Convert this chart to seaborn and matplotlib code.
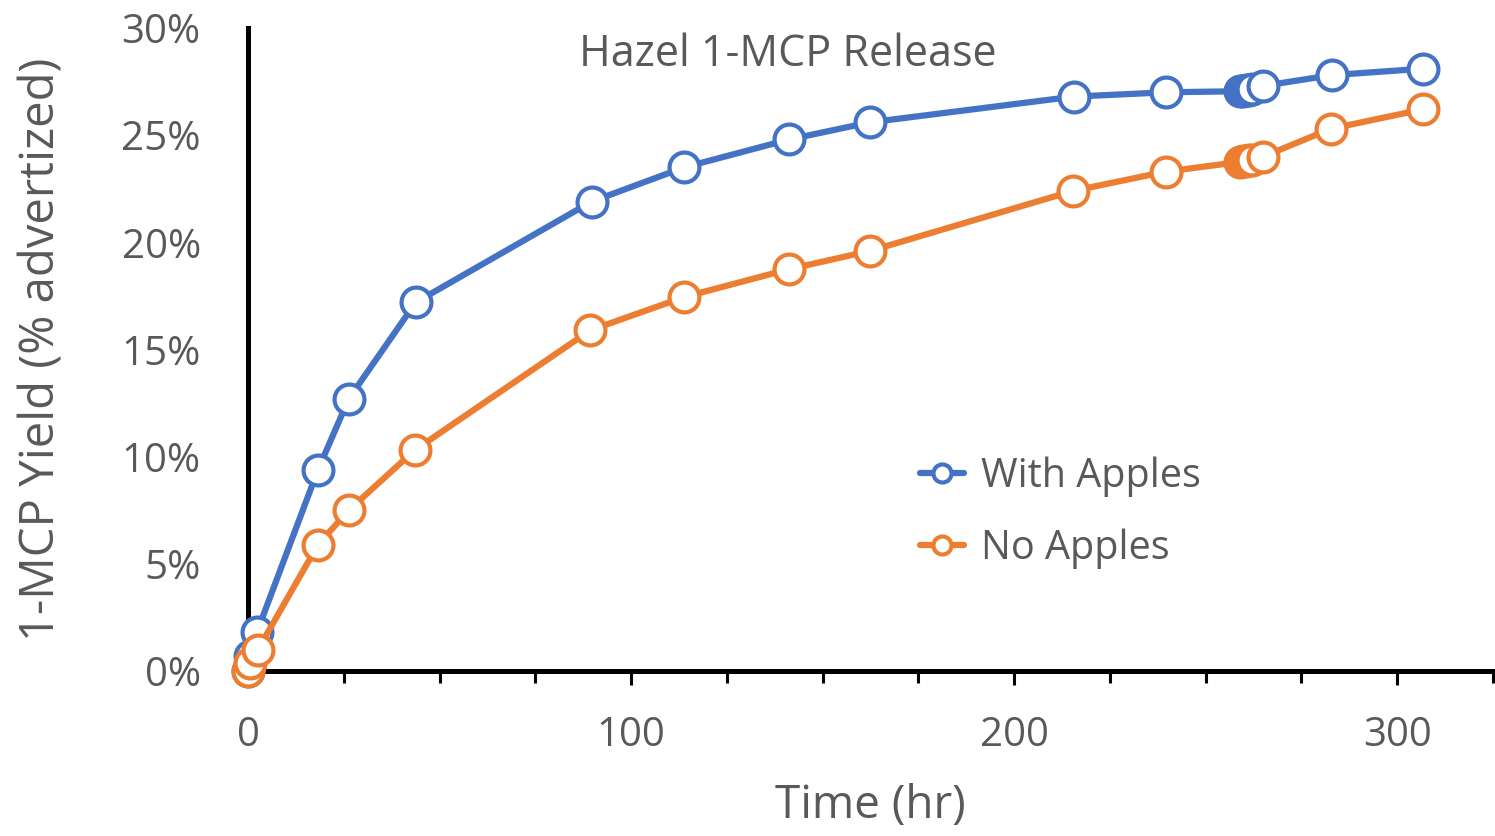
import matplotlib
matplotlib.use("Agg")
import matplotlib.pyplot as plt
from matplotlib.ticker import MultipleLocator, FuncFormatter
from matplotlib.lines import Line2D
import seaborn as sns
import pandas as pd

# ---- data ----
time_with = [0, 0.5, 2.3, 18.3, 26.3, 43.8, 89.7, 113.9, 141.3, 162.4, 215.6, 239.6,
             258.9, 259.7, 260.5, 261.3, 262.1, 265.0, 282.9, 306.6]
yield_with = [0.0, 0.7, 1.8, 9.4, 12.7, 17.2, 21.9, 23.5, 24.8, 25.6, 26.8, 27.0,
              27.05, 27.07, 27.1, 27.12, 27.15, 27.3, 27.8, 28.1]
time_no = [0, 0.5, 2.6, 18.3, 26.3, 43.5, 89.4, 113.9, 141.3, 162.4, 215.4, 239.6,
           258.9, 259.7, 260.5, 261.3, 262.1, 265.0, 282.7, 306.6]
yield_no = [0.0, 0.35, 1.0, 5.9, 7.5, 10.3, 15.9, 17.45, 18.75, 19.6, 22.4, 23.3,
            23.75, 23.78, 23.8, 23.83, 23.86, 24.0, 25.3, 26.2]
series_names = ["With Apples", "No Apples"]
title_text = "Hazel 1-MCP Release"
x_label = "Time (hr)"
y_label = "1-MCP Yield (% advertized)"

df = pd.concat([
    pd.DataFrame({"time": time_with, "yield": [v / 100 for v in yield_with], "series": series_names[0]}),
    pd.DataFrame({"time": time_no, "yield": [v / 100 for v in yield_no], "series": series_names[1]}),
], ignore_index=True)

sns.set_theme(style="white")
plt.rcParams["font.family"] = ["Open Sans", "DejaVu Sans"]

TEXT = "#595959"
colors = {series_names[0]: "#4472C4", series_names[1]: "#ED7D31"}

fig = plt.figure(figsize=(14.95, 8.36), dpi=100)
ax = fig.add_axes([248 / 1495, 1 - 671 / 836, (1493 - 248) / 1495, (671 - 28) / 836])

for name in series_names:
    sub = df[df["series"] == name]
    sns.lineplot(data=sub, x="time", y="yield", ax=ax, estimator=None, sort=False,
                 color=colors[name], linewidth=4.5, marker="o", markersize=21.5,
                 markerfacecolor="white", markeredgecolor=colors[name],
                 markeredgewidth=3.0, clip_on=False, zorder=3)

ax.set_xlim(0, 325)
ax.set_ylim(0, 0.30)
ax.xaxis.set_major_locator(MultipleLocator(100))
ax.xaxis.set_minor_locator(MultipleLocator(25))
ax.yaxis.set_major_locator(MultipleLocator(0.05))
ax.yaxis.set_major_formatter(FuncFormatter(lambda v, p: f"{v * 100:.0f}%"))

for s in ["top", "right"]:
    ax.spines[s].set_visible(False)
for s in ["left", "bottom"]:
    ax.spines[s].set_color("black")
    ax.spines[s].set_linewidth(3.6)
    ax.spines[s].set_zorder(2)

ax.tick_params(axis="x", which="major", direction="out", length=10, width=2.2,
               color="black", bottom=True, labelsize=29, labelcolor=TEXT, pad=22)
ax.tick_params(axis="x", which="minor", direction="out", length=8.5, width=2.2,
               color="black", bottom=True)
ax.tick_params(axis="y", which="major", length=0, labelsize=29, labelcolor=TEXT, pad=34)

ax.set_xlabel(x_label, fontsize=33, color=TEXT)
ax.set_ylabel(y_label, fontsize=34, color=TEXT)
ax.xaxis.label.set_va("center")
ax.yaxis.label.set_va("center")
ax.xaxis.set_label_coords(0.5, (671 - 806) / 643)
ax.yaxis.set_label_coords((42 - 248) / 1245, 0.5)

fig.text(788 / 1495, 1 - 55 / 836, title_text, ha="center", va="center",
         fontsize=31, color=TEXT)

handles = [Line2D([], [], color=colors[n], linewidth=4.5, marker="o", markersize=13,
                  markerfacecolor="white", markeredgecolor=colors[n], markeredgewidth=3.0)
           for n in series_names]
leg = ax.legend(handles, series_names, loc="center left",
                bbox_to_anchor=(920 / 1495, 1 - 513 / 836), bbox_transform=fig.transFigure,
                frameon=False, fontsize=28.5, handlelength=1.1, handletextpad=0.45,
                labelspacing=0.8, borderpad=0, borderaxespad=0)
for t in leg.get_texts():
    t.set_color(TEXT)

fig.savefig("out.png", dpi=100)
